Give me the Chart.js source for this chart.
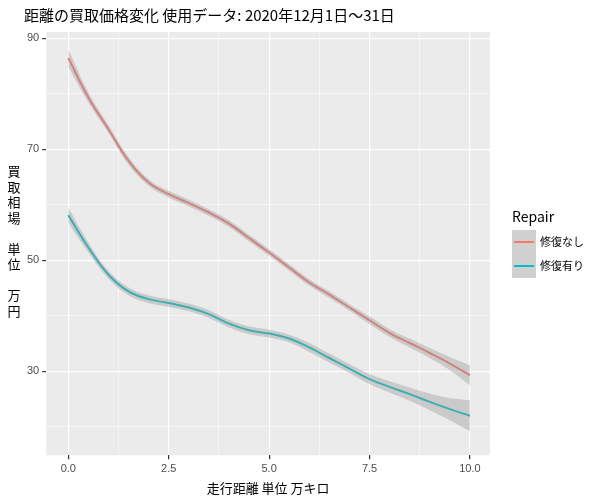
<!DOCTYPE html>
<html><head><meta charset="utf-8">
<script src="https://cdn.jsdelivr.net/npm/chart.js@4"></script>
<style>body{margin:0;background:#fff}</style>
</head><body>
<canvas id="c" width="600" height="500"></canvas>
<script>
const xs = [0, 0.5, 1, 1.5, 2, 2.5, 3, 3.5, 4, 4.5, 5, 5.5, 6, 6.5, 7, 7.5, 8, 8.5, 9, 9.5, 10];
const noRepair = [86.4, 79.3, 73.6, 67.9, 64.0, 61.9, 60.3, 58.6, 56.6, 54.0, 51.4, 48.7, 46.0, 43.8, 41.5, 39.2, 36.9, 35.1, 33.3, 31.4, 29.3];
const noRepairSe = [1.6, 0.9, 0.7, 0.7, 0.6, 0.6, 0.6, 0.6, 0.6, 0.6, 0.6, 0.6, 0.6, 0.6, 0.6, 0.7, 0.7, 0.8, 0.9, 1.2, 1.8];
const repaired = [58.1, 52.3, 47.4, 44.4, 43.0, 42.3, 41.5, 40.3, 38.6, 37.4, 36.8, 35.9, 34.3, 32.4, 30.5, 28.6, 27.2, 25.9, 24.5, 23.2, 22.0];
const repairedSe = [1.4, 0.9, 0.7, 0.7, 0.7, 0.7, 0.7, 0.7, 0.7, 0.7, 0.7, 0.7, 0.8, 0.8, 0.8, 0.9, 1.0, 1.2, 1.5, 2.0, 2.8];
const seriesNames = ["修復なし", "修復有り"];
const colors = ["#F8766D", "#00BFC4"];
const yTicks = [30, 50, 70, 90];
const xTicks = [0, 2.5, 5, 7.5, 10];

const pts = (v, s, k) => xs.map((x, i) => ({x, y: v[i] + k * s[i]}));
const band = (v, s) => [
  {data: pts(v, s, -1), borderWidth: 0, pointRadius: 0, tension: 0.4, fill: false},
  {data: pts(v, s, 1), borderWidth: 0, pointRadius: 0, tension: 0.4, fill: '-1', backgroundColor: 'rgba(153,153,153,0.4)'}
];
const line = (v, c) => ({data: xs.map((x, i) => ({x, y: v[i]})), borderColor: c, borderWidth: 2, pointRadius: 0, tension: 0.4, fill: false});

const bgPlugin = {
  id: 'bg',
  beforeDraw(ch) {
    const {ctx, chartArea: a} = ch;
    ctx.save(); ctx.fillStyle = '#EBEBEB';
    ctx.fillRect(a.left, a.top, a.right - a.left, a.bottom - a.top);
    ctx.restore();
  },
  afterDraw(ch) {
    const ctx = ch.ctx;
    ctx.save();
    ctx.fillStyle = '#000';
    ctx.font = '13px "Noto Sans CJK JP"';
    ctx.textAlign = 'center';
    const chars = ['買', '取', '相', '場', '', '単', '位', '', '万', '円'];
    chars.forEach((t, i) => ctx.fillText(t, 14, 176 + i * 15.5));
    // legend
    ctx.textAlign = 'left';
    ctx.font = '14px "Noto Sans CJK JP"';
    ctx.fillText('Repair', 512, 222);
    seriesNames.forEach((n, i) => {
      const y = 230 + i * 24;
      ctx.fillStyle = '#D0D0D0'; ctx.fillRect(512, y, 24, 24);
      ctx.strokeStyle = colors[i]; ctx.lineWidth = 2;
      ctx.beginPath(); ctx.moveTo(514, y + 12); ctx.lineTo(534, y + 12); ctx.stroke();
      ctx.fillStyle = '#000'; ctx.font = '11px "Noto Sans CJK JP"';
      ctx.fillText(n, 540, y + 16);
    });
    ctx.restore();
  }
};

new Chart(document.getElementById('c'), {
  type: 'line',
  data: {datasets: [...band(noRepair, noRepairSe), ...band(repaired, repairedSe), line(noRepair, colors[0]), line(repaired, colors[1])]},
  options: {
    responsive: false, animation: false,
    layout: {padding: {left: 24, right: 110, top: 0, bottom: 0}},
    plugins: {
      legend: {display: false}, tooltip: {enabled: false},
      title: {display: true, text: '距離の買取価格変化 使用データ: 2020年12月1日～31日', align: 'start',
        font: {family: '"Noto Sans CJK JP"', size: 15, weight: 'normal'}, color: '#000', padding: {top: 6, bottom: 8}}
    },
    scales: {
      x: {type: 'linear', min: -0.55, max: 10.5,
        afterBuildTicks: s => { s.ticks = [0, 1.25, 2.5, 3.75, 5, 6.25, 7.5, 8.75, 10].map(v => ({value: v})); },
        ticks: {callback: v => xTicks.includes(v) ? v.toFixed(1) : '', color: '#4D4D4D', font: {size: 11}, maxRotation: 0, autoSkip: false},
        grid: {color: '#fff', lineWidth: c => xTicks.includes(c.tick?.value) ? 1.2 : 0.5,
          tickColor: c => xTicks.includes(c.tick?.value) ? '#333' : 'rgba(0,0,0,0)', tickLength: 4},
        border: {display: false},
        title: {display: true, text: '走行距離 単位 万キロ', color: '#000', font: {family: '"Noto Sans CJK JP"', size: 13}, padding: {top: 2}}
      },
      y: {min: 14.9, max: 91.1,
        afterBuildTicks: s => { s.ticks = [20, 30, 40, 50, 60, 70, 80, 90].map(v => ({value: v})); },
        ticks: {callback: v => yTicks.includes(v) ? v : '', color: '#4D4D4D', font: {size: 11}, autoSkip: false},
        grid: {color: '#fff', lineWidth: c => yTicks.includes(c.tick?.value) ? 1.2 : 0.5,
          tickColor: c => yTicks.includes(c.tick?.value) ? '#333' : 'rgba(0,0,0,0)', tickLength: 4},
        border: {display: false}
      }
    }
  },
  plugins: [bgPlugin]
});
</script>
</body></html>
